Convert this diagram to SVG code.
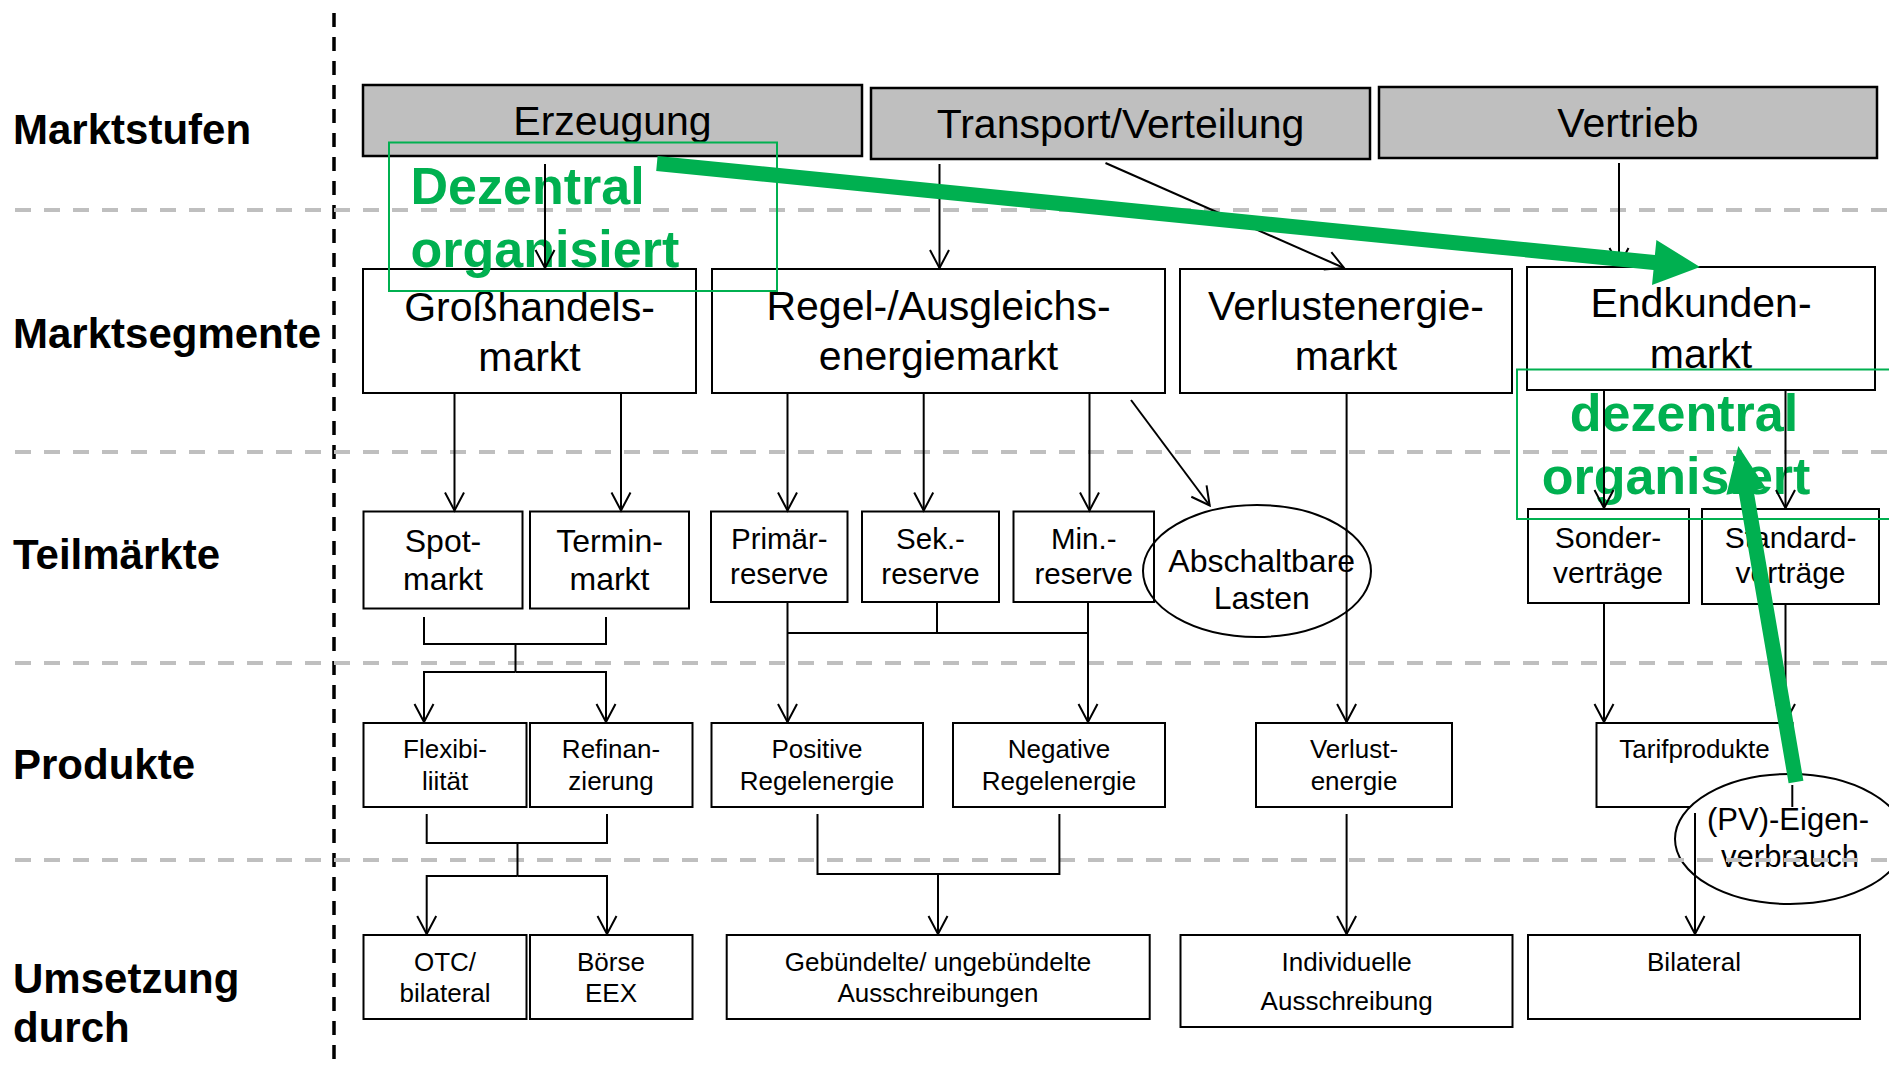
<svg xmlns="http://www.w3.org/2000/svg" width="1889" height="1068" viewBox="0 0 1889 1068">
<defs>
<style>
.bx{fill:#fff;stroke:#000;stroke-width:2}
.gb{fill:#bfbfbf;stroke:#000;stroke-width:2.5}
.el{fill:none;stroke:#000;stroke-width:2}
.elw{fill:#fff;stroke:#000;stroke-width:2}
text{font-family:"Liberation Sans",Arial,sans-serif;fill:#000}
.c{text-anchor:middle}
.lab{font-weight:bold;font-size:42px}
.f41{font-size:41px}
.f32{font-size:32px}
.f31{font-size:31px}
.f30{font-size:30px}
.f295{font-size:29.5px}
.f26{font-size:26px}
.gr{font-weight:bold;font-size:52px;fill:#00b050}
.grect{fill:none;stroke:#00b050;stroke-width:2}
.gdash{stroke:#bfbfbf;stroke-width:4;stroke-dasharray:16 13;fill:none}
.conn path{fill:none;stroke:#000;stroke-width:2}
.garrow{fill:#00b050}
</style>
<marker id="ah" viewBox="-20 -11 22 22" refX="0" refY="0" markerWidth="22" markerHeight="22" markerUnits="userSpaceOnUse" orient="auto">
<path d="M-18,-9.5 L0,0 L-18,9.5" fill="none" stroke="#000" stroke-width="2"/>
</marker>
</defs>
<rect x="0" y="0" width="1889" height="1068" fill="#fff"/>

<g id="labels">
<text class="lab" x="13" y="144">Marktstufen</text>
<text class="lab" x="13" y="348">Marktsegmente</text>
<text class="lab" x="13" y="569">Teilmärkte</text>
<text class="lab" x="13" y="779">Produkte</text>
<text class="lab" x="13" y="993">Umsetzung</text>
<text class="lab" x="13" y="1042">durch</text>
</g>

<line x1="334" y1="13" x2="334" y2="1068" stroke="#000" stroke-width="3.5" stroke-dasharray="14 10"/>

<g id="n-erzeugung"><rect class="gb" x="363" y="85" width="499" height="71"/><text class="c f41" x="612.5" y="135">Erzeugung</text></g>
<g id="n-transport"><rect class="gb" x="871" y="88" width="499" height="71"/><text class="c f41" x="1120.5" y="138">Transport/Verteilung</text></g>
<g id="n-vertrieb"><rect class="gb" x="1379" y="87" width="498" height="71"/><text class="c f41" x="1628" y="137">Vertrieb</text></g>

<g id="n-grosshandel"><rect class="bx" x="363" y="269" width="333" height="124"/><text class="c f41"><tspan x="529.5" y="320.5">Großhandels-</tspan><tspan x="529.5" y="370.5">markt</tspan></text></g>
<g id="n-regel"><rect class="bx" x="712" y="269" width="453" height="124"/><text class="c f41"><tspan x="938.5" y="320">Regel-/Ausgleichs-</tspan><tspan x="938.5" y="370">energiemarkt</tspan></text></g>
<g id="n-verlustmarkt"><rect class="bx" x="1180" y="269" width="332" height="124"/><text class="c f41"><tspan x="1346" y="320">Verlustenergie-</tspan><tspan x="1346" y="370">markt</tspan></text></g>
<g id="n-endkunden"><rect class="bx" x="1527" y="267" width="348" height="123"/><text class="c f41"><tspan x="1701" y="317">Endkunden-</tspan><tspan x="1701" y="368">markt</tspan></text></g>

<g id="n-spot"><rect class="bx" x="363.5" y="511.5" width="159" height="97"/><text class="c f32"><tspan x="443" y="552">Spot-</tspan><tspan x="443" y="590">markt</tspan></text></g>
<g id="n-termin"><rect class="bx" x="530" y="511.5" width="159" height="97"/><text class="c f32"><tspan x="609.5" y="552">Termin-</tspan><tspan x="609.5" y="590">markt</tspan></text></g>
<g id="n-primaer"><rect class="bx" x="711" y="511.5" width="136.5" height="90.5"/><text class="c f295"><tspan x="779.3" y="549">Primär-</tspan><tspan x="779.3" y="584">reserve</tspan></text></g>
<g id="n-sek"><rect class="bx" x="862" y="511.5" width="137" height="90.5"/><text class="c f295"><tspan x="930.5" y="549">Sek.-</tspan><tspan x="930.5" y="584">reserve</tspan></text></g>
<g id="n-min"><rect class="bx" x="1013.5" y="511.5" width="140.5" height="90.5"/><text class="c f295"><tspan x="1083.7" y="549">Min.-</tspan><tspan x="1083.7" y="584">reserve</tspan></text></g>
<g id="n-abschaltbar"><ellipse class="el" cx="1257" cy="571" rx="114" ry="66"/><text class="c f32"><tspan x="1261.7" y="571.7">Abschaltbare</tspan><tspan x="1261.7" y="609.3">Lasten</tspan></text></g>
<g id="n-sonder"><rect class="bx" x="1528" y="509" width="161" height="94"/><text class="c f30"><tspan x="1608" y="548">Sonder-</tspan><tspan x="1608" y="583">verträge</tspan></text></g>
<g id="n-standard"><rect class="bx" x="1702" y="509" width="177" height="95"/><text class="c f30"><tspan x="1790.5" y="548">Standard-</tspan><tspan x="1790.5" y="583">verträge</tspan></text></g>

<g id="n-flex"><rect class="bx" x="363.5" y="723" width="163" height="84"/><text class="c f26"><tspan x="445" y="758">Flexibi-</tspan><tspan x="445" y="789.5">liität</tspan></text></g>
<g id="n-refin"><rect class="bx" x="530" y="723" width="162.5" height="84"/><text class="c f26"><tspan x="611" y="758">Refinan-</tspan><tspan x="611" y="789.5">zierung</tspan></text></g>
<g id="n-positiv"><rect class="bx" x="711.5" y="723" width="211.5" height="84"/><text class="c f26"><tspan x="817" y="758">Positive</tspan><tspan x="817" y="789.5">Regelenergie</tspan></text></g>
<g id="n-negativ"><rect class="bx" x="953" y="723" width="212" height="84"/><text class="c f26"><tspan x="1059" y="758">Negative</tspan><tspan x="1059" y="789.5">Regelenergie</tspan></text></g>
<g id="n-verlustenergie"><rect class="bx" x="1256" y="723" width="196" height="84"/><text class="c f26"><tspan x="1354" y="758">Verlust-</tspan><tspan x="1354" y="789.5">energie</tspan></text></g>
<g id="n-tarif"><rect class="bx" x="1596.5" y="723" width="196" height="84"/><text class="c f26" x="1694.5" y="758">Tarifprodukte</text></g>
<g id="n-pv"><ellipse class="elw" cx="1790" cy="839" rx="115" ry="65"/><text class="c f31"><tspan x="1788" y="830">(PV)-Eigen-</tspan><tspan x="1790" y="866.5">verbrauch</tspan></text></g>

<g id="n-otc"><rect class="bx" x="363.5" y="935" width="163" height="84"/><text class="c f26"><tspan x="445" y="970.5">OTC/</tspan><tspan x="445" y="1002">bilateral</tspan></text></g>
<g id="n-boerse"><rect class="bx" x="530" y="935" width="162.5" height="84"/><text class="c f26"><tspan x="611" y="970.5">Börse</tspan><tspan x="611" y="1002">EEX</tspan></text></g>
<g id="n-gebuendelt"><rect class="bx" x="726.7" y="935" width="423" height="84"/><text class="c f26"><tspan x="938" y="970.5">Gebündelte/ ungebündelte</tspan><tspan x="938" y="1002">Ausschreibungen</tspan></text></g>
<g id="n-individuell"><rect class="bx" x="1180.5" y="935" width="332" height="92"/><text class="c f26"><tspan x="1346.6" y="970.5">Individuelle</tspan><tspan x="1346.6" y="1010">Ausschreibung</tspan></text></g>
<g id="n-bilateral"><rect class="bx" x="1528" y="935" width="332" height="84"/><text class="c f26" x="1694" y="970.5">Bilateral</text></g>

<g id="separators">
<line class="gdash" x1="15" y1="210" x2="1889" y2="210"/>
<line class="gdash" x1="15" y1="452" x2="1889" y2="452"/>
<line class="gdash" x1="15" y1="663" x2="1889" y2="663"/>
<line class="gdash" x1="15" y1="860" x2="1889" y2="860"/>
</g>

<g id="green-notes">
<rect class="grect" x="389" y="142.5" width="388" height="148.5"/>
<text class="gr" x="410.5" y="204">Dezentral</text>
<text class="gr" x="410.5" y="266.7">organisiert</text>
<rect class="grect" x="1517" y="369.5" width="390" height="149.5"/>
<text class="gr c" x="1684" y="431">dezentral</text>
<text class="gr c" x="1676" y="494">organisiert</text>
</g>

<g id="connectors" class="conn">
<path d="M545,164 V268" marker-end="url(#ah)"/>
<path d="M939.5,164 V268" marker-end="url(#ah)"/>
<path d="M1105.5,163 L1344,268" marker-end="url(#ah)"/>
<path d="M1619,163 V266" marker-end="url(#ah)"/>
<path d="M454.5,393 V510.5" marker-end="url(#ah)"/>
<path d="M621,393 V510.5" marker-end="url(#ah)"/>
<path d="M787.5,393 V510.5" marker-end="url(#ah)"/>
<path d="M923.7,393 V510.5" marker-end="url(#ah)"/>
<path d="M1089.5,393 V510.5" marker-end="url(#ah)"/>
<path d="M1131,400 L1209.7,505.5" marker-end="url(#ah)"/>
<path d="M1346.6,393 V722" marker-end="url(#ah)"/>
<path d="M1604,390 V508" marker-end="url(#ah)"/>
<path d="M1785.5,390 V508" marker-end="url(#ah)"/>
<path d="M424,617 V644 H606 V617"/>
<path d="M515.5,644 V672"/>
<path d="M515.5,672 H424 V722" marker-end="url(#ah)"/>
<path d="M515.5,672 H606 V722" marker-end="url(#ah)"/>
<path d="M787.5,602 V722" marker-end="url(#ah)"/>
<path d="M1088,602 V722" marker-end="url(#ah)"/>
<path d="M937,602 V633"/>
<path d="M787.5,633 H1088"/>
<path d="M1604,603 V722" marker-end="url(#ah)"/>
<path d="M1785.5,604 V722" marker-end="url(#ah)"/>
<path d="M426.7,814 V843 H607 V814"/>
<path d="M517.5,843 V876"/>
<path d="M517.5,876 H426.7 V934" marker-end="url(#ah)"/>
<path d="M517.5,876 H607 V934" marker-end="url(#ah)"/>
<path d="M817.5,814 V874 H1059.4 V814"/>
<path d="M938,874 V934" marker-end="url(#ah)"/>
<path d="M1346.6,814 V934" marker-end="url(#ah)"/>
<path d="M1695,813 V934" marker-end="url(#ah)"/>
<path d="M1792.3,785 V807"/>
</g>

<g id="green-arrows">
<polygon class="garrow" points="657.6,156.0 1654.9,255.0 1656.4,240.0 1700,267 1652.0,285.0 1653.5,270.0 656.2,171.0"/>
<polygon class="garrow" points="1788.6,783.3 1738.7,492.6 1726.4,494.7 1738.3,446 1765.8,487.9 1753.5,490.0 1803.4,780.7"/>
</g>
</svg>
